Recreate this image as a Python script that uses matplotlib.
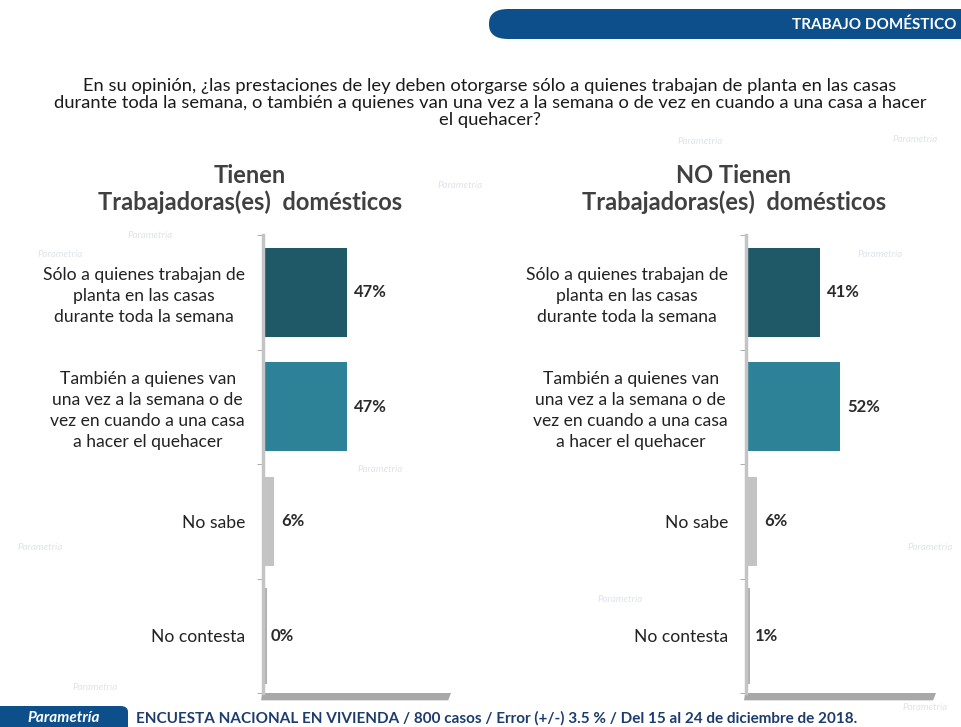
import matplotlib
matplotlib.use("Agg")
import matplotlib.pyplot as plt
from matplotlib.patches import Polygon, FancyBboxPatch
import numpy as np

plt.rcParams['font.family'] = ['Lato', 'DejaVu Sans']

# Data
categories = [
    "Sólo a quienes trabajan de\nplanta en las casas\ndurante toda la semana",
    "También a quienes van\nuna vez a la semana o de\nvez en cuando a una casa\na hacer el quehacer",
    "No sabe",
    "No contesta",
]
tienen = [47, 47, 6, 0]
no_tienen = [41, 52, 6, 1]
bar_colors = ["#1f5866", "#2e8298", "#c3c3c3", "#b4b4b4"]

question = ("En su opinión, ¿las prestaciones de ley deben otorgarse sólo a quienes trabajan de planta en las casas\n"
            "durante toda la semana, o también a quienes van una vez a la semana o de vez en cuando a una casa a hacer\n"
            "el quehacer?")
titles = ["Tienen\nTrabajadoras(es)  domésticos", "NO Tienen\nTrabajadoras(es)  domésticos"]
footer = "ENCUESTA NACIONAL EN VIVIENDA / 800 casos / Error (+/-) 3.5 % / Del 15 al 24 de diciembre de 2018."
header = "TRABAJO DOMÉSTICO"

W, H = 961, 727
fig = plt.figure(figsize=(W / 100, H / 100), dpi=100)
fig.patch.set_facecolor("white")

text_color = "#222222"

# faint watermark marks in the background
for (wx, wy) in [(60, 255), (40, 548), (380, 470), (880, 255), (930, 548), (700, 142),
                 (460, 185), (150, 235), (620, 600), (925, 708), (95, 688), (915, 140)]:
    fig.text(wx / W, 1 - wy / H, "Parametria", fontsize=7, fontstyle="italic",
             color="#dfe3ea", ha="center", va="center")


def draw_panel(ax, values):
    y = np.arange(len(categories))
    ax.barh(y, values, height=0.78, color=bar_colors, edgecolor="none", zorder=2)
    # thin sliver for 0/1 values so the bar is visible like the original
    ax.barh(y, [2.2 if v < 2 else 0 for v in values], height=0.84,
            color="#b0b0b0", edgecolor="none", zorder=2)
    for yi, v in zip(y, values):
        ax.text(v + 4, yi, f"{v}%", va="center", ha="left", fontsize=12,
                fontweight="bold", color="#2b2b2b")
    ax.set_ylim(len(categories) - 0.5, -0.5)
    ax.set_xlim(0, 105)
    ax.set_yticks(y)
    ax.set_yticklabels(categories, fontsize=12.6, color=text_color,
                       multialignment="center", linespacing=1.38)
    ax.set_yticks(np.arange(len(categories) + 1) - 0.5, minor=True)
    ax.tick_params(axis="y", which="major", length=0, pad=13)
    ax.tick_params(axis="y", which="minor", length=4, color="#a0a0a0", direction="out")
    ax.set_xticks([])
    for s in ["top", "right", "bottom"]:
        ax.spines[s].set_visible(False)
    ax.spines["left"].set_color("#c4c4c4")
    ax.spines["left"].set_linewidth(2.5)
    ax.set_facecolor("none")
    # 3D floor under the chart
    floor = Polygon([(-0.005, 0.0), (1.0, 0.0), (0.985, -0.016), (-0.01, -0.016)],
                    closed=True, transform=ax.transAxes, clip_on=False,
                    facecolor="#a8a8a8", edgecolor="none")
    ax.add_patch(floor)


ax1 = fig.add_axes([263 / W, 1 - 693 / H, 188 / W, 458 / H])
ax2 = fig.add_axes([746 / W, 1 - 693 / H, 190 / W, 458 / H])
draw_panel(ax1, tienen)
draw_panel(ax2, no_tienen)

# Titles
fig.text(250 / W, 1 - 189 / H, titles[0], ha="center", va="center", fontsize=17,
         fontweight="bold", color="#404040", linespacing=1.2)
fig.text(734 / W, 1 - 189 / H, titles[1], ha="center", va="center", fontsize=17,
         fontweight="bold", color="#404040", linespacing=1.2)

# Question
fig.text(490 / W, 1 - 103 / H, question, ha="center", va="center", fontsize=13.2,
         color="#1a1a1a", linespacing=1.08)

# Header band
hdr = FancyBboxPatch((489 / W, 1 - 39 / H), 520 / W, 30 / H,
                     boxstyle="round,pad=0,rounding_size=0.02",
                     transform=fig.transFigure, facecolor="#0d4f8b", edgecolor="none")
fig.patches.append(hdr)
fig.text(957 / W, 1 - 25 / H, header, ha="right", va="center", fontsize=11,
         fontweight="bold", color="white")

# Footer
ftr = FancyBboxPatch((-10 / W, -10 / H), 138 / W, 31 / H, boxstyle="round,pad=0,rounding_size=0.008",
                     transform=fig.transFigure, facecolor="#0d4f8b", edgecolor="none")
fig.patches.append(ftr)
fig.text(64 / W, 9 / H, "Parametría", ha="center", va="center", fontsize=11,
         fontweight="bold", fontstyle="italic", color="white")
fig.text(136 / W, 9 / H, footer, ha="left", va="center", fontsize=11,
         fontweight="bold", color="#1c3c6e")

fig.savefig("out.png", dpi=100)
